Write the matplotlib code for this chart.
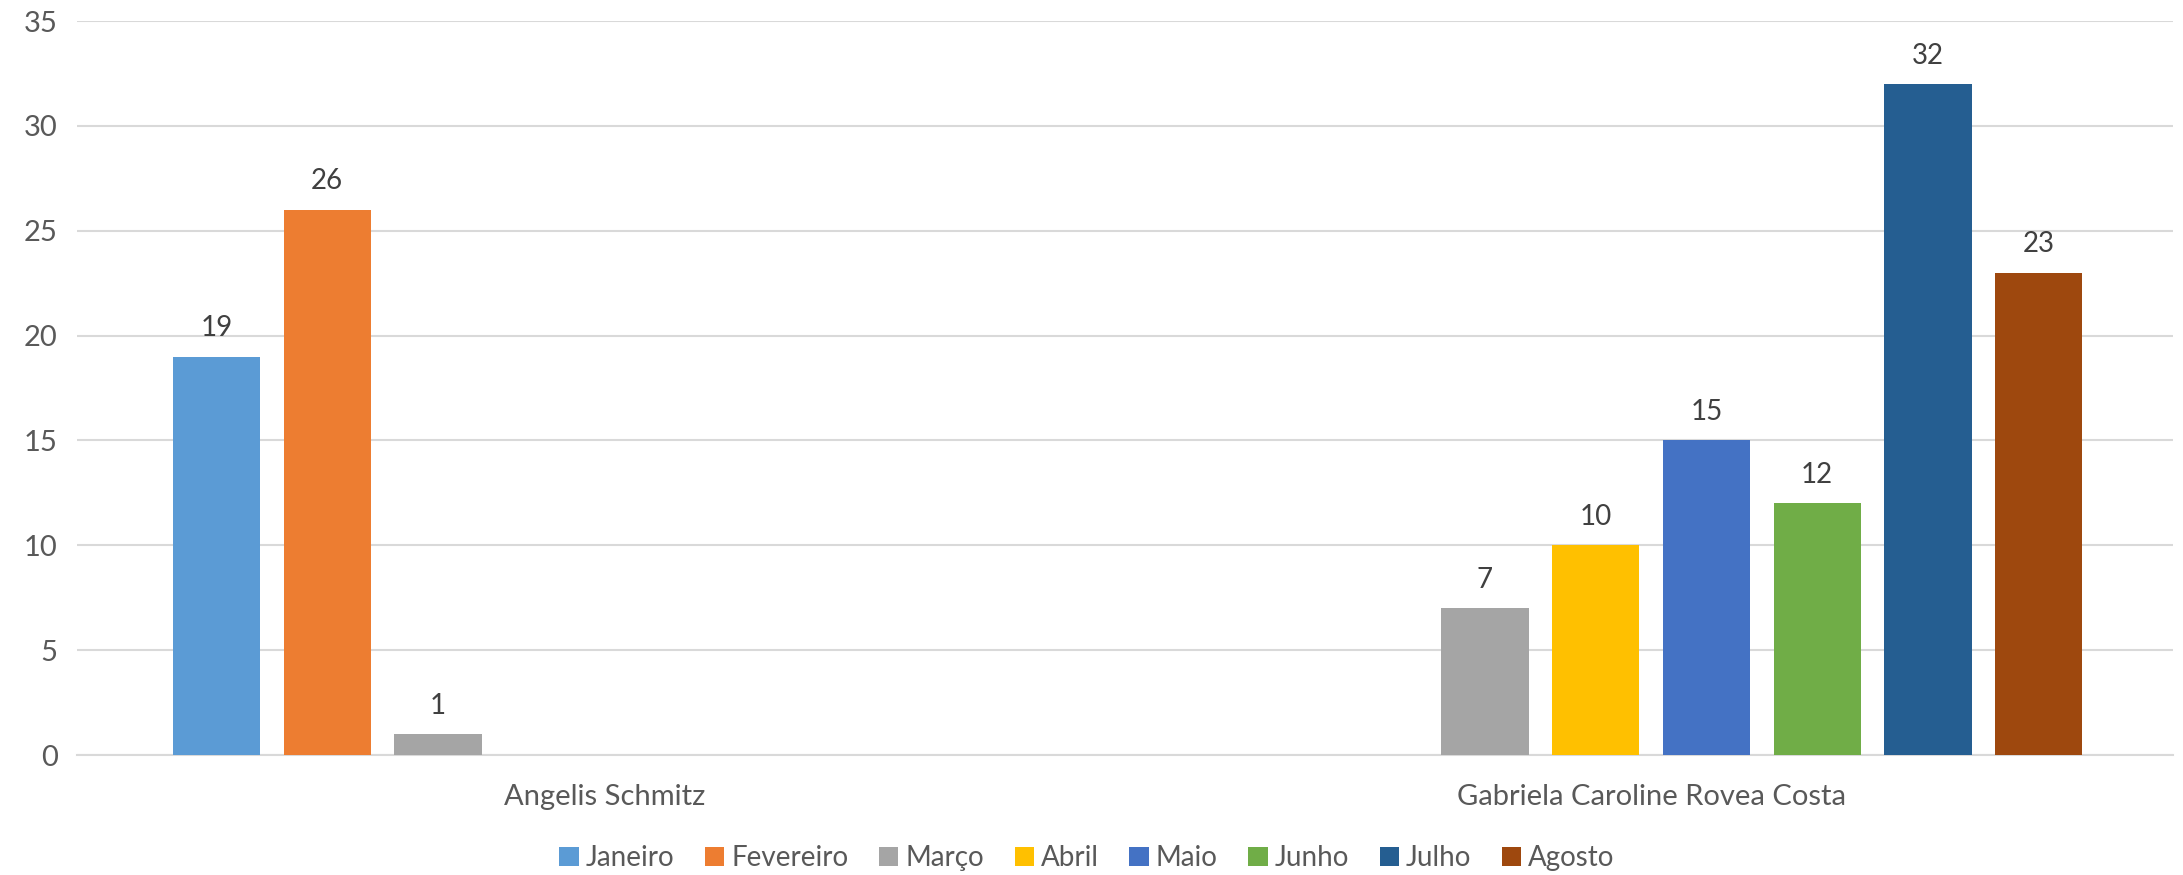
import numpy as np
import matplotlib
matplotlib.use("Agg")
import matplotlib.pyplot as plt

categories = ["Angelis Schmitz", "Gabriela Caroline Rovea Costa"]
months = ["Janeiro", "Fevereiro", "Março", "Abril", "Maio", "Junho", "Julho", "Agosto"]
janeiro = [19, np.nan]
fevereiro = [26, np.nan]
marco = [1, 7]
abril = [np.nan, 10]
maio = [np.nan, 15]
junho = [np.nan, 12]
julho = [np.nan, 32]
agosto = [np.nan, 23]
series = [janeiro, fevereiro, marco, abril, maio, junho, julho, agosto]
colors = ["#5B9BD5", "#ED7D31", "#A5A5A5", "#FFC000", "#4472C4", "#70AD47", "#255E91", "#9E480E"]

plt.rcParams['font.family'] = ['Lato', 'DejaVu Sans']

W, H = 2183, 875
fig = plt.figure(figsize=(W / 100, H / 100), dpi=100)
ax = fig.add_axes([77 / W, 120 / H, 2096 / W, 734 / H])

x = np.arange(len(categories))
slot = 0.1058
bw = 0.0835
handles = []
for i, (vals, c, m) in enumerate(zip(series, colors, months)):
    off = (i - 3.5) * slot
    b = ax.bar(x + off, vals, width=bw, color=c, label=m, zorder=3)
    handles.append(b)
    for xi, v in zip(x, vals):
        if not np.isnan(v):
            ax.annotate(f"{int(v)}", (xi + off, v), xytext=(0, 11), textcoords="offset points",
                        ha="center", va="bottom", fontsize=20, color="#404040")

ax.set_xlim(-0.5035, 1.4985)
ax.set_ylim(0, 35)
ax.set_yticks(range(0, 36, 5))
ax.set_xticks(x)
ax.set_xticklabels(categories)
ax.yaxis.grid(True, color="#D9D9D9", linewidth=1.5, zorder=0)
ax.set_axisbelow(True)
for s in ["top", "right", "left"]:
    ax.spines[s].set_visible(False)
ax.spines["bottom"].set_color("#D9D9D9")
ax.spines["bottom"].set_linewidth(1.5)
ax.tick_params(axis="both", length=0, labelsize=21, labelcolor="#595959")
ax.tick_params(axis="y", pad=14)
ax.tick_params(axis="x", pad=21)

fig.legend(handles=handles, labels=months, loc="center", bbox_to_anchor=(1087 / W, 1 - 858 / H),
           ncol=8, frameon=False, fontsize=20, labelcolor="#595959",
           handlelength=0.7, handleheight=0.7, handletextpad=0.25, columnspacing=1.1)

fig.savefig("out.png", dpi=100, facecolor="white")
